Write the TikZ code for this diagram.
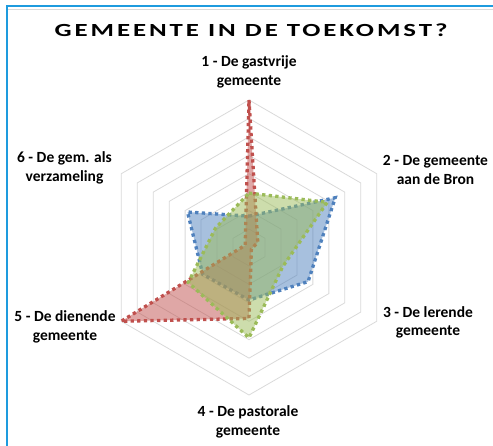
\documentclass[tikz,border=0pt]{standalone}
\usepackage{fontspec}
\setmainfont{Carlito}
\newfontfamily\titlefont[LetterSpace=11]{Carlito}
\usepackage{tikz}

\definecolor{framblue}{RGB}{30,155,222}
\definecolor{gridgray}{RGB}{217,217,217}
\definecolor{serblue}{RGB}{79,129,189}
\definecolor{serred}{RGB}{192,80,77}
\definecolor{sergreen}{RGB}{155,187,89}

\tikzset{
  axislabel/.style={align=center, font=\bfseries\fontsize{15.5}{18.5}\selectfont},
  ring/.style={draw=gridgray, line width=0.8pt},
  serie/.style={draw=#1, fill=#1, fill opacity=0.5, draw opacity=1,
    line width=3.3pt, dash pattern=on 3.3pt off 3.3pt}
}

\begin{document}
\begin{tikzpicture}[x=1pt,y=1pt]
  \useasboundingbox (0,0) rectangle (493,446);
  % frame
  \draw[gridgray, line width=0.6pt] (8,437) -- (493,437);
  \draw[framblue, line width=2pt] (7,0) -- (7,439.5) -- (493,439.5);
  \node (title) [anchor=base, xscale=1.45, transform shape] at (251,409.5)
    {\titlefont\bfseries\fontsize{18.5}{22}\selectfont GEMEENTE IN DE TOEKOMST?};

  \begin{scope}[shift={(249,198.5)}, x=18.44pt, y=18.44pt]
    % grid
    \foreach \r in {1,...,8}
      \draw[ring] (90:\r) -- (30:\r) -- (-30:\r) -- (-90:\r) -- (210:\r) -- (150:\r) -- cycle;
    % series
    \draw[serie=serblue] (90:1.7) -- (30:5.4) -- (-30:3.7) -- (-90:2.85) -- (210:2.9) -- (150:3.85) -- cycle;
    \draw[serie=serred] (90:8) -- (30:0.55) -- (-30:0.15) -- (-90:3.85) -- (210:8) -- (150:0.24) -- cycle;
    \draw[serie=sergreen] (90:2.95) -- (30:4.9) -- (-30:2.1) -- (-90:4.9) -- (210:3.8) -- (150:2.1) -- cycle;
  \end{scope}

  \node (lab1) [axislabel] at (249,374) {1 - De gastvrije\\gemeente};
  \node (lab2) [axislabel] at (435.5,276) {2 - De gemeente\\aan de Bron};
  \node (lab3) [axislabel] at (428,123.5) {3 - De lerende\\gemeente};
  \node (lab4) [axislabel] at (248,24) {4 - De pastorale\\gemeente};
  \node (lab5) [axislabel] at (65,119) {5 - De dienende\\gemeente};
  \node (lab6) [axislabel] at (64.5,278) {6 - De gem. als\\verzameling};
\end{tikzpicture}
\end{document}
